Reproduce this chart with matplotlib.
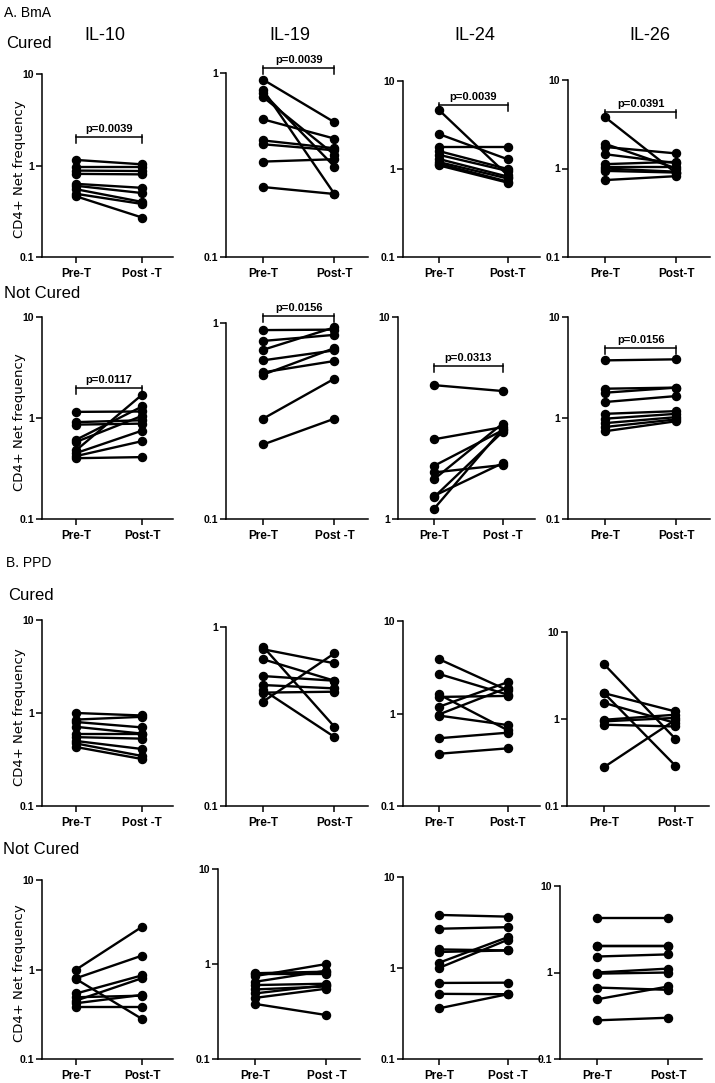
import numpy as np
import matplotlib.pyplot as plt
from matplotlib.ticker import FixedLocator, FixedFormatter, NullLocator

W, H = 715, 1083

# ---- A. BmA, cured ----
bma_c_il10_pre = [1.15, 0.96, 0.88, 0.81, 0.63, 0.60, 0.55, 0.49, 0.46]
bma_c_il10_post = [1.03, 0.96, 0.87, 0.80, 0.57, 0.50, 0.40, 0.38, 0.27]
bma_c_il19_pre = [0.92, 0.81, 0.78, 0.74, 0.56, 0.43, 0.41, 0.33, 0.24]
bma_c_il19_post = [0.54, 0.22, 0.31, 0.36, 0.44, 0.39, 0.38, 0.34, 0.22]
bma_c_il24_pre = [4.7, 2.5, 1.8, 1.6, 1.45, 1.3, 1.2, 1.15, 1.1]
bma_c_il24_post = [0.85, 1.29, 1.8, 1.0, 0.95, 0.82, 0.78, 0.72, 0.70]
bma_c_il26_pre = [3.8, 1.9, 1.75, 1.45, 1.12, 1.05, 1.0, 0.94, 0.74]
bma_c_il26_post = [0.88, 1.0, 1.48, 1.15, 1.19, 1.05, 0.92, 0.9, 0.82]

# ---- A. BmA, not cured ----
bma_nc_il10_pre = [1.15, 0.91, 0.86, 0.61, 0.58, 0.48, 0.45, 0.42, 0.40]
bma_nc_il10_post = [1.16, 0.95, 0.88, 1.30, 1.05, 1.70, 0.75, 0.59, 0.41]
bma_nc_il19_pre = [0.92, 0.81, 0.73, 0.645, 0.56, 0.545, 0.325, 0.24]
bma_nc_il19_post = [0.925, 0.87, 0.95, 0.725, 0.64, 0.745, 0.52, 0.325]
bma_nc_il24_pre = [4.6, 2.48, 1.83, 1.70, 1.57, 1.30, 1.28, 1.12]
bma_nc_il24_post = [4.3, 2.85, 2.75, 1.85, 2.97, 1.89, 2.70, 2.8]
bma_nc_il26_pre = [3.72, 1.95, 1.78, 1.44, 1.10, 0.985, 0.89, 0.815, 0.74]
bma_nc_il26_post = [3.81, 2.0, 2.0, 1.65, 1.17, 1.10, 1.02, 0.97, 0.93]

# ---- B. PPD, cured ----
ppd_c_il10_pre = [1.0, 0.85, 0.80, 0.71, 0.60, 0.55, 0.50, 0.47, 0.43]
ppd_c_il10_post = [0.94, 0.91, 0.70, 0.60, 0.60, 0.53, 0.41, 0.345, 0.32]
ppd_c_il19_pre = [0.776, 0.751, 0.66, 0.532, 0.474, 0.445, 0.43, 0.383]
ppd_c_il19_post = [0.277, 0.627, 0.501, 0.501, 0.454, 0.243, 0.435, 0.713]
ppd_c_il24_pre = [3.88, 2.68, 1.61, 1.51, 1.18, 0.975, 0.95, 0.54, 0.367]
ppd_c_il24_post = [1.78, 1.6, 0.66, 1.55, 2.18, 1.9, 0.75, 0.62, 0.42]
ppd_c_il26_pre = [4.26, 1.98, 1.98, 1.53, 0.98, 0.94, 0.86, 0.28]
ppd_c_il26_post = [0.59, 0.29, 1.22, 0.90, 1.12, 1.03, 0.82, 0.98]

# ---- B. PPD, not cured ----
ppd_nc_il10_pre = [1.0, 0.80, 0.78, 0.54, 0.49, 0.45, 0.42, 0.38]
ppd_nc_il10_post = [3.0, 1.43, 0.28, 0.86, 0.51, 0.80, 0.52, 0.38]
ppd_nc_il19_pre = [0.80, 0.78, 0.746, 0.65, 0.60, 0.54, 0.49, 0.44, 0.38]
ppd_nc_il19_post = [0.83, 0.78, 1.0, 0.85, 0.62, 0.58, 0.60, 0.55, 0.29]
ppd_nc_il24_pre = [3.83, 2.70, 1.60, 1.50, 1.14, 1.0, 0.685, 0.52, 0.36]
ppd_nc_il24_post = [3.67, 2.81, 1.56, 1.56, 2.18, 2.04, 0.69, 0.515, 0.515]
ppd_nc_il26_pre = [4.22, 2.02, 2.0, 1.53, 1.0, 0.97, 0.67, 0.49, 0.28]
ppd_nc_il26_post = [4.22, 2.02, 2.0, 1.62, 1.11, 1.0, 0.63, 0.69, 0.30]

cytokines = ['IL-10', 'IL-19', 'IL-24', 'IL-26']

pre_vals = [
    [bma_c_il10_pre, bma_c_il19_pre, bma_c_il24_pre, bma_c_il26_pre],
    [bma_nc_il10_pre, bma_nc_il19_pre, bma_nc_il24_pre, bma_nc_il26_pre],
    [ppd_c_il10_pre, ppd_c_il19_pre, ppd_c_il24_pre, ppd_c_il26_pre],
    [ppd_nc_il10_pre, ppd_nc_il19_pre, ppd_nc_il24_pre, ppd_nc_il26_pre],
]
post_vals = [
    [bma_c_il10_post, bma_c_il19_post, bma_c_il24_post, bma_c_il26_post],
    [bma_nc_il10_post, bma_nc_il19_post, bma_nc_il24_post, bma_nc_il26_post],
    [ppd_c_il10_post, ppd_c_il19_post, ppd_c_il24_post, ppd_c_il26_post],
    [ppd_nc_il10_post, ppd_nc_il19_post, ppd_nc_il24_post, ppd_nc_il26_post],
]
y_ranges = [
    [(0.1, 10), (0.1, 1), (0.1, 10), (0.1, 10)],
    [(0.1, 10), (0.1, 1), (1, 10), (0.1, 10)],
    [(0.1, 10), (0.1, 1), (0.1, 10), (0.1, 10)],
    [(0.1, 10), (0.1, 10), (0.1, 10), (0.1, 10)],
]
post_labels = [
    ['Post -T', 'Post-T', 'Post-T', 'Post-T'],
    ['Post-T', 'Post -T', 'Post -T', 'Post-T'],
    ['Post -T', 'Post-T', 'Post-T', 'Post-T'],
    ['Post-T', 'Post -T', 'Post -T', 'Post-T'],
]
# p-values: (text, bracket height)
p_values = [
    [('p=0.0039', 2.04), ('p=0.0039', 1.06), ('p=0.0039', 5.35), ('p=0.0391', 4.3)],
    [('p=0.0117', 1.98), ('p=0.0156', 1.08), ('p=0.0313', 5.7), ('p=0.0156', 4.97)],
    [None, None, None, None],
    [None, None, None, None],
]

# layout in pixels
lefts = [[42, 226, 403, 568], [42, 226, 398, 568], [42, 226, 403, 567], [42, 218, 403, 560]]
widths = [131, 142, 137, 142]
tops = [[74, 73, 81, 80], [317, 323, 317, 317], [620, 627, 621, 632], [880, 869, 877, 886]]
bottoms = [257, 519, 806, 1059]

bold = 'Liberation Sans'
head = dict(family='Liberation Sans')

fig = plt.figure(figsize=(W / 100, H / 100), dpi=100)

for r in range(4):
    for c in range(4):
        l, t, b, w = lefts[r][c], tops[r][c], bottoms[r], widths[c]
        ax = fig.add_axes([l / W, 1 - b / H, w / W, (b - t) / H])
        pre, post = pre_vals[r][c], post_vals[r][c]
        for a, bb in zip(pre, post):
            ax.plot([0, 1], [a, bb], color='black', lw=1.7, marker='o', ms=5.8,
                    clip_on=False, zorder=3)
        ax.set_yscale('log')
        lo, hi = y_ranges[r][c]
        ax.set_ylim(lo, hi)
        ax.set_xlim(-0.52, 1.47)
        ticks = [v for v in [0.1, 1, 10] if lo <= v <= hi]
        ax.yaxis.set_major_locator(FixedLocator(ticks))
        ax.yaxis.set_major_formatter(FixedFormatter([('%g' % v) for v in ticks]))
        ax.yaxis.set_minor_locator(NullLocator())
        ax.set_xticks([0, 1])
        ax.set_xticklabels(['Pre-T', post_labels[r][c]])
        for s in ['top', 'right']:
            ax.spines[s].set_visible(False)
        for s in ['left', 'bottom']:
            ax.spines[s].set_linewidth(1.1)
        ax.tick_params(direction='out', length=4, width=1.1, pad=1.5)
        ax.tick_params(axis='x', pad=4)
        for lab in ax.get_xticklabels():
            lab.set_fontfamily(bold)
            lab.set_fontweight('bold')
            lab.set_fontsize(8.5)
        for lab in ax.get_yticklabels():
            lab.set_fontfamily(bold)
            lab.set_fontweight('bold')
            lab.set_fontsize(7.5)
        pv = p_values[r][c]
        if pv is not None:
            txt, yb = pv
            dec_px = (b - t) / np.log10(hi / lo)
            up = 10 ** (2 / dec_px)
            down = 10 ** (-6 / dec_px)
            ax.plot([0, 1], [yb, yb], color='black', lw=1.1, clip_on=False)
            ax.plot([0, 0], [yb * up, yb * down], color='black', lw=1.1, clip_on=False)
            ax.plot([1, 1], [yb * up, yb * down], color='black', lw=1.1, clip_on=False)
            ax.text(0.5, yb * 10 ** (3 / dec_px), txt, ha='center', va='bottom',
                    fontsize=8, fontweight='bold', family=bold)
        if c == 0:
            fig.text(20 / W, 1 - ((t + b) / 2 + 4) / H, 'CD4+ Net frequency', rotation=90,
                     ha='center', va='center', fontsize=9.5, family='DejaVu Sans')

# column titles
for x, name in zip([105, 290, 475, 650], cytokines):
    fig.text(x / W, 1 - 35 / H, name, ha='center', va='center', fontsize=13, **head)

fig.text(4 / W, 1 - 13 / H, 'A. BmA', ha='left', va='center', fontsize=10, **head)
fig.text(6 / W, 1 - 43 / H, 'Cured', ha='left', va='center', fontsize=12, **head)
fig.text(4 / W, 1 - 293 / H, 'Not Cured', ha='left', va='center', fontsize=12, **head)
fig.text(6 / W, 1 - 563 / H, 'B. PPD', ha='left', va='center', fontsize=10, **head)
fig.text(8 / W, 1 - 595 / H, 'Cured', ha='left', va='center', fontsize=12, **head)
fig.text(3 / W, 1 - 850 / H, 'Not Cured', ha='left', va='center', fontsize=12, **head)

fig.savefig('out.png', dpi=100)
